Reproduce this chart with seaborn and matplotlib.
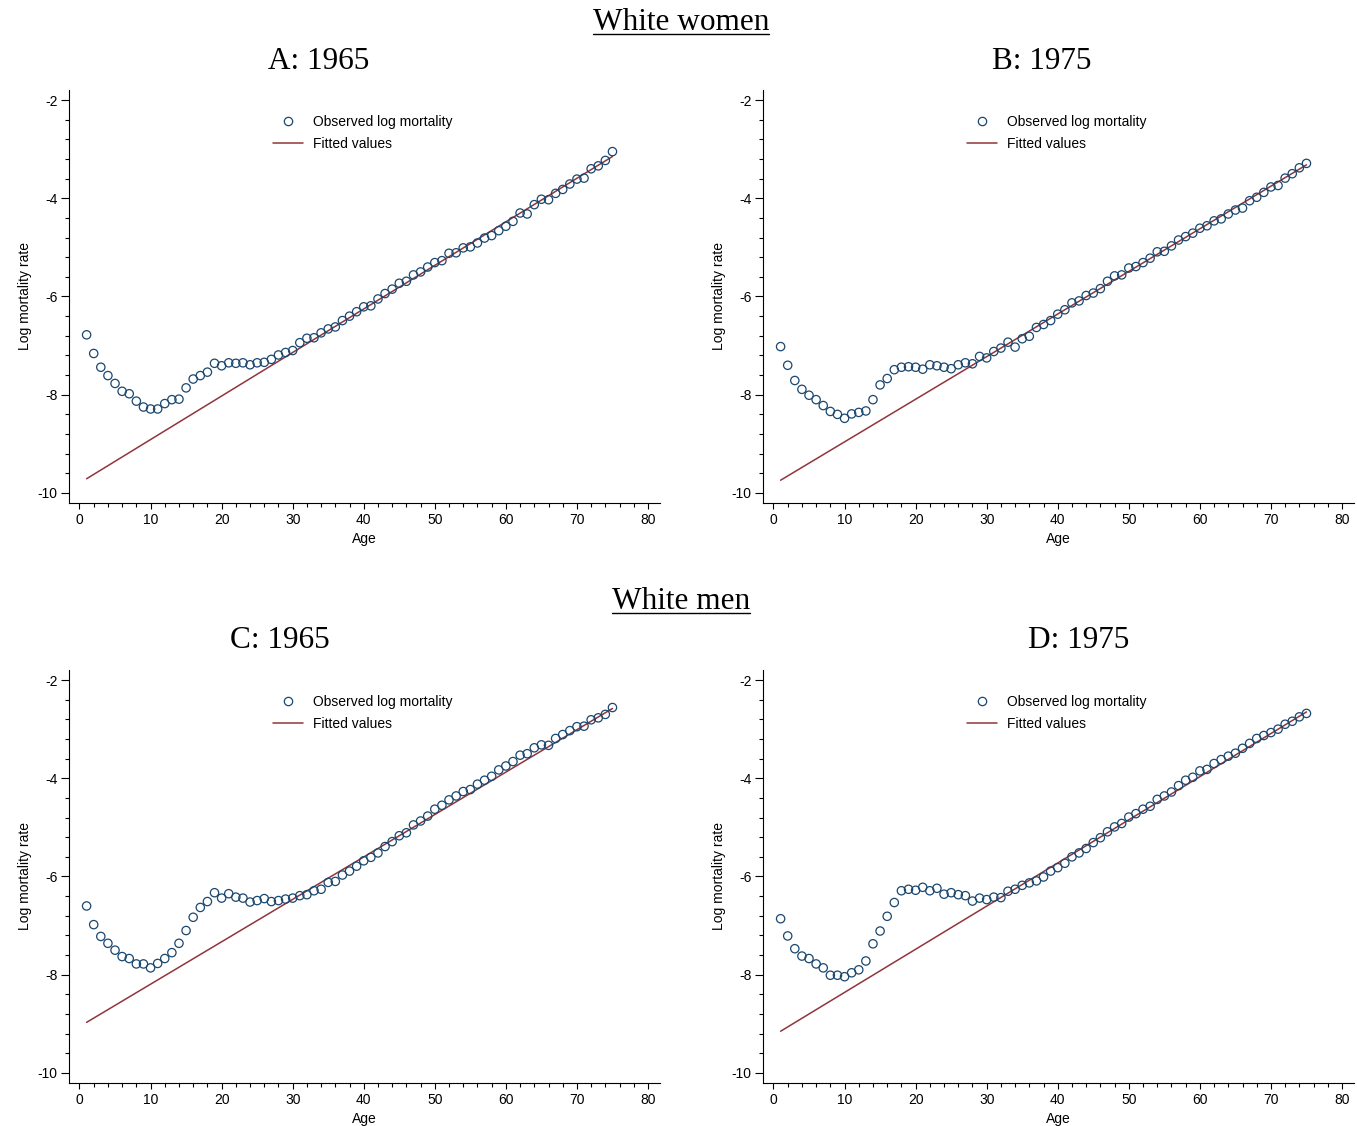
import numpy as np
import pandas as pd
import matplotlib
matplotlib.use("Agg")
import matplotlib.pyplot as plt
from matplotlib.ticker import MultipleLocator
from matplotlib.lines import Line2D
import seaborn as sns

ages = list(range(1, 76))

women_1965 = [-6.78, -7.16, -7.44, -7.61, -7.77, -7.93, -7.98, -8.13, -8.25, -8.29,
              -8.29, -8.18, -8.10, -8.09, -7.86, -7.68, -7.61, -7.54, -7.36, -7.41,
              -7.35, -7.36, -7.35, -7.39, -7.35, -7.34, -7.28, -7.19, -7.14, -7.10,
              -6.94, -6.85, -6.84, -6.74, -6.66, -6.62, -6.49, -6.40, -6.31, -6.21,
              -6.19, -6.05, -5.94, -5.85, -5.73, -5.69, -5.56, -5.50, -5.40, -5.31,
              -5.27, -5.12, -5.11, -5.01, -4.99, -4.91, -4.81, -4.76, -4.66, -4.57,
              -4.47, -4.30, -4.32, -4.13, -4.02, -4.03, -3.90, -3.82, -3.71, -3.61,
              -3.59, -3.40, -3.34, -3.23, -3.05]

women_1975 = [-7.02, -7.40, -7.71, -7.89, -8.01, -8.10, -8.22, -8.34, -8.40, -8.48,
              -8.39, -8.36, -8.33, -8.10, -7.80, -7.67, -7.49, -7.44, -7.43, -7.44,
              -7.48, -7.39, -7.41, -7.44, -7.47, -7.39, -7.35, -7.37, -7.22, -7.25,
              -7.12, -7.05, -6.93, -7.03, -6.86, -6.81, -6.63, -6.57, -6.49, -6.36,
              -6.27, -6.13, -6.09, -5.98, -5.93, -5.84, -5.69, -5.58, -5.56, -5.42,
              -5.39, -5.31, -5.22, -5.09, -5.08, -4.97, -4.85, -4.78, -4.71, -4.61,
              -4.56, -4.46, -4.42, -4.32, -4.24, -4.20, -4.05, -3.98, -3.88, -3.77,
              -3.74, -3.59, -3.50, -3.38, -3.29]

men_1965 = [-6.60, -6.98, -7.22, -7.36, -7.50, -7.63, -7.67, -7.78, -7.78, -7.86,
            -7.77, -7.67, -7.55, -7.36, -7.10, -6.83, -6.63, -6.51, -6.33, -6.44,
            -6.35, -6.42, -6.44, -6.52, -6.49, -6.45, -6.51, -6.49, -6.46, -6.44,
            -6.39, -6.37, -6.29, -6.26, -6.12, -6.10, -5.97, -5.89, -5.79, -5.68,
            -5.61, -5.52, -5.39, -5.29, -5.17, -5.11, -4.95, -4.87, -4.77, -4.63,
            -4.55, -4.44, -4.36, -4.27, -4.23, -4.12, -4.04, -3.96, -3.83, -3.75,
            -3.66, -3.53, -3.50, -3.38, -3.32, -3.33, -3.19, -3.11, -3.03, -2.95,
            -2.94, -2.81, -2.77, -2.70, -2.56]

men_1975 = [-6.86, -7.21, -7.47, -7.62, -7.67, -7.78, -7.86, -8.01, -8.01, -8.04,
            -7.96, -7.90, -7.72, -7.37, -7.11, -6.81, -6.53, -6.29, -6.26, -6.28,
            -6.22, -6.29, -6.24, -6.36, -6.33, -6.37, -6.39, -6.50, -6.44, -6.47,
            -6.42, -6.43, -6.30, -6.26, -6.18, -6.13, -6.09, -6.01, -5.89, -5.82,
            -5.73, -5.60, -5.52, -5.43, -5.31, -5.21, -5.09, -4.99, -4.92, -4.79,
            -4.72, -4.63, -4.57, -4.43, -4.36, -4.28, -4.15, -4.04, -3.98, -3.85,
            -3.82, -3.70, -3.62, -3.55, -3.49, -3.39, -3.29, -3.19, -3.13, -3.07,
            -3.00, -2.90, -2.84, -2.75, -2.68]

# fitted line coefficients (intercept, slope)
fit_intercepts = [-9.799, -9.827, -9.056, -9.238]
fit_slopes = [0.08865, 0.08676, 0.08635, 0.08784]

panel_titles = ["A: 1965", "B: 1975", "C: 1965", "D: 1975"]
group_titles = ["White women", "White men"]
x_ticks = [0, 10, 20, 30, 40, 50, 60, 70, 80]
y_ticks = [-10, -8, -6, -4, -2]

sns.set_style("ticks")
plt.rcParams['font.family'] = ['Liberation Sans', 'DejaVu Sans']
plt.rcParams['axes.unicode_minus'] = False
plt.rcParams['text.color'] = 'black'
plt.rcParams['axes.labelcolor'] = 'black'
plt.rcParams['xtick.color'] = 'black'
plt.rcParams['ytick.color'] = 'black'

NAVY = "#1a476f"
MAROON = "#90353b"
W, H = 1357, 1126
fig = plt.figure(figsize=(W / 100, H / 100), dpi=100)

def fx(px):
    return px / W

def fy(py):
    return 1 - py / H

# axes boxes in pixels: left, right, top, bottom
boxes = [(68.5, 660, 90, 503), (762.5, 1354, 90, 503),
         (68.5, 660, 670, 1083), (762.5, 1354, 670, 1083)]
series = [women_1965, women_1975, men_1965, men_1975]
title_pos = [(319, 69), (1042, 69), (280, 648), (1079, 648)]

for i in range(4):
    l, r, t, b = boxes[i]
    ax = fig.add_axes([fx(l), fy(b), (r - l) / W, (b - t) / H])
    df = pd.DataFrame({"age": ages, "obs": series[i]})
    df["fit"] = fit_intercepts[i] + fit_slopes[i] * df["age"]
    sns.scatterplot(data=df, x="age", y="obs", ax=ax, marker="o",
                    facecolor="none", edgecolor=NAVY, linewidth=0.9, s=36,
                    label="Observed log mortality", zorder=3)
    sns.lineplot(data=df, x="age", y="fit", ax=ax, color=MAROON, linewidth=1.1,
                 label="Fitted values", zorder=2)
    ax.set_xlim(-1.547, 81.69)
    ax.set_ylim(-10.204, -1.796)
    ax.set_xticks(x_ticks)
    ax.set_yticks(y_ticks)
    ax.xaxis.set_minor_locator(MultipleLocator(2))
    ax.yaxis.set_minor_locator(MultipleLocator(0.4))
    ax.tick_params(axis="x", which="major", direction="out", length=4.5, width=0.8,
                   labelsize=10, colors="black", pad=3)
    ax.tick_params(axis="y", which="major", direction="out", length=5.5, width=0.8,
                   labelsize=10, colors="black", pad=2.5)
    ax.tick_params(which="minor", direction="out", length=3, width=0.8, colors="black")
    ax.set_xlabel("Age", fontsize=10, labelpad=3)
    ax.set_ylabel("Log mortality rate", fontsize=10, labelpad=4)
    for s in ["top", "right"]:
        ax.spines[s].set_visible(False)
    for s in ["left", "bottom"]:
        ax.spines[s].set_linewidth(0.8)
        ax.spines[s].set_color("black")
    handles = [Line2D([], [], marker="o", linestyle="none", markerfacecolor="none",
                      markeredgecolor=NAVY, markeredgewidth=0.9, markersize=6),
               Line2D([], [], color=MAROON, linewidth=1.1)]
    ax.legend(handles, ["Observed log mortality", "Fitted values"],
              loc="upper center", bbox_to_anchor=(0.497, 0.97), frameon=False,
              fontsize=10, handlelength=2.2, handletextpad=0.7, labelspacing=0.55)
    tx, ty = title_pos[i]
    fig.text(fx(tx), fy(ty), panel_titles[i], ha="center", va="baseline",
             fontsize=22.5, family=["Liberation Serif", "DejaVu Serif"])

group_pos = [(681, 30), (681, 609)]
texts = []
for name, (gx, gy) in zip(group_titles, group_pos):
    t = fig.text(fx(gx), fy(gy), name, ha="center", va="baseline",
                 fontsize=22.5, family=["Liberation Serif", "DejaVu Serif"])
    texts.append((t, gy))

fig.canvas.draw()
renderer = fig.canvas.get_renderer()
for t, gy in texts:
    bb = t.get_window_extent(renderer)
    uy = fy(gy + 3.5)
    fig.add_artist(Line2D([bb.x0 / W, bb.x1 / W], [uy, uy], color="black",
                          linewidth=1.0, transform=fig.transFigure))

fig.savefig("out.png", dpi=100)
